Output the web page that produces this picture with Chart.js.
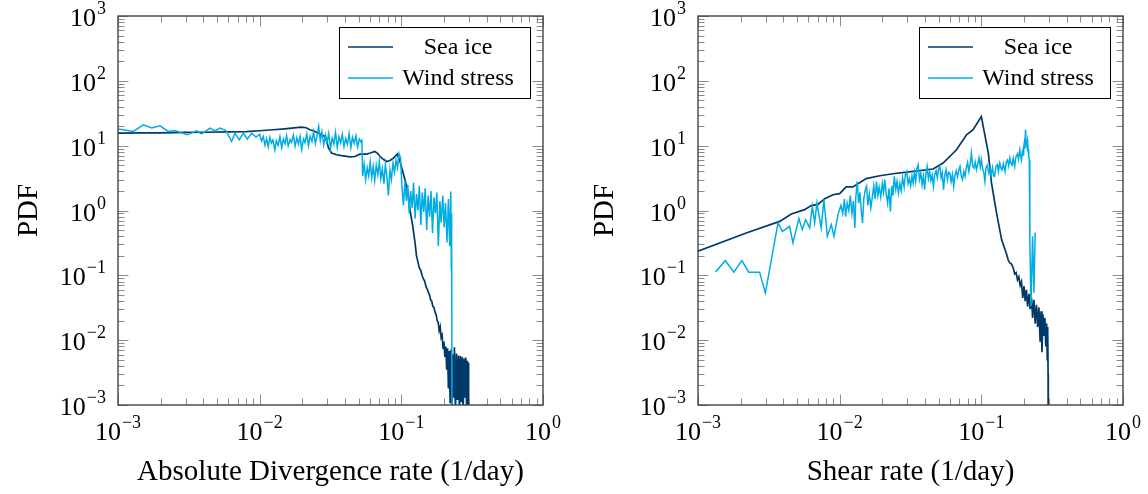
<!DOCTYPE html>
<html>
<head>
<meta charset="utf-8">
<script src="https://cdn.jsdelivr.net/npm/chart.js@4.4.1/dist/chart.umd.min.js"></script>
<style>
  html, body { margin: 0; padding: 0; background: #fff; }
  #wrap { position: relative; width: 1148px; height: 494px; }
  .panel { position: absolute; top: 0; width: 574px; height: 494px; }
  #p1 { left: 0; }
  #p2 { left: 574px; }
</style>
</head>
<body>
<div id="wrap">
  <div class="panel" id="p1"><canvas id="divChart"></canvas></div>
  <div class="panel" id="p2"><canvas id="shearChart"></canvas></div>
</div>
<script>
// Two log-log PDF panels: divergence (left) and shear (right)
const seriesNames = ["Sea ice", "Wind stress"];
const iceColor  = "rgb(0,57,104)";
const windColor = "rgb(0,172,230)";
const SERIF = '"Liberation Serif", "DejaVu Serif", serif';

const xDecades = [1e-3, 1e-2, 1e-1, 1e0];
const yDecades = [1e-3, 1e-2, 1e-1, 1e0, 1e1, 1e2, 1e3];
const minorSteps = [2, 3, 4, 5, 6, 7, 8, 9];

// --- left panel: absolute divergence rate ---
const divIceX = [0.001, 0.0015, 0.002, 0.003, 0.004, 0.006, 0.008, 0.01, 0.0125, 0.015, 0.0175, 0.0197, 0.0213, 0.0226, 0.024, 0.026, 0.0275, 0.0289, 0.0298, 0.0306, 0.0322, 0.0345, 0.0369, 0.04, 0.0433, 0.047, 0.0509, 0.0566, 0.0605, 0.0649, 0.068, 0.0708, 0.075, 0.0789, 0.083, 0.0878, 0.0936, 0.0978, 0.1, 0.103, 0.106, 0.109, 0.112, 0.115, 0.12, 0.125,
  0.128, 0.131, 0.134, 0.137, 0.14, 0.143, 0.146, 0.149, 0.152, 0.155, 0.158, 0.161, 0.164, 0.167, 0.17, 0.173, 0.176, 0.179, 0.182, 0.185, 0.188, 0.191, 0.194, 0.197, 0.2, 0.203, 0.206, 0.209, 0.212, 0.215, 0.218, 0.221, 0.224, 0.227, 0.231, 0.234, 0.237, 0.241, 0.245, 0.249, 0.253, 0.257, 0.261, 0.265, 0.269, 0.273, 0.277, 0.281, 0.285, 0.289, 0.293, 0.296, 0.298, 0.299];
const divIceY = [15.6, 15.7, 15.8, 16.0, 16.1, 16.3, 16.5, 17.0, 17.6, 18.2, 18.8, 19.3, 18.9, 17.6, 17.0, 15.6, 14.6, 13.9, 11.5, 9.2, 7.7, 7.3, 7.1, 6.9, 6.7, 6.8, 7.4, 7.4, 7.7, 8.15, 7.6, 6.8, 6.1, 5.7, 5.9, 6.4, 7.4, 5.7, 4.8, 3.8, 3.0, 2.36, 1.7, 1.03, 0.6, 0.316,
  0.2, 0.16, 0.13, 0.12, 0.1, 0.088, 0.082, 0.068, 0.062, 0.055, 0.05, 0.042, 0.04, 0.033, 0.032, 0.027, 0.025, 0.02, 0.019, 0.014, 0.016, 0.011, 0.012, 0.0075, 0.0095, 0.0055, 0.008, 0.0035, 0.0075, 0.0018, 0.0068, 0.0011, 0.0072, 0.0008, 0.006, 0.0013, 0.0078, 0.0007, 0.0062, 0.0012, 0.0058, 0.0008, 0.0057, 0.0011, 0.0055, 0.0007, 0.0052, 0.0013, 0.0054, 0.0008, 0.0048, 0.0012, 0.0045, 0.0001];

const divWindX = [0.001, 0.00128, 0.00151, 0.00173, 0.00198, 0.00226, 0.00252, 0.00308, 0.00359, 0.00389, 0.00446, 0.00484, 0.00525, 0.00578, 0.00634, 0.00669, 0.00718, 0.00766, 0.00818, 0.00879, 0.00942,
  0.0100, 0.0103, 0.0106, 0.0109, 0.0112, 0.0115, 0.0118, 0.0121, 0.0124, 0.0128, 0.0131, 0.0135, 0.0139, 0.0143, 0.0147, 0.0151, 0.0155, 0.0159, 0.0164, 0.0168, 0.0173, 0.0178, 0.0183, 0.0188, 0.0193, 0.0198, 0.0204, 0.0209, 0.0215, 0.0221, 0.0227, 0.0234, 0.024, 0.0247, 0.0254, 0.0261,
  0.0268, 0.0275, 0.0283, 0.0291, 0.0299, 0.0307, 0.0316, 0.0325, 0.0334, 0.0343, 0.0353, 0.0363, 0.0373, 0.0383, 0.0394, 0.0405, 0.0416, 0.0428, 0.044, 0.0452, 0.0465, 0.0478, 0.0491, 0.0505, 0.0519, 0.0527,
  0.0533, 0.0546, 0.056, 0.0574, 0.0588, 0.0603, 0.0618, 0.0633, 0.0649, 0.0665, 0.0682, 0.0699, 0.0716, 0.0734, 0.0753, 0.0771, 0.0791, 0.081, 0.0831, 0.0851, 0.0873, 0.0895, 0.0917, 0.094, 0.0963, 0.0987,
  0.101, 0.1035, 0.106, 0.1085, 0.111, 0.1137, 0.1164, 0.1192, 0.122, 0.125, 0.128, 0.131, 0.134, 0.1373, 0.1406, 0.144, 0.1474, 0.151, 0.1546, 0.1583, 0.162, 0.166, 0.17, 0.174, 0.178, 0.1825, 0.187, 0.191, 0.196, 0.2005, 0.205, 0.21, 0.215, 0.2195, 0.2235,
  0.2255, 0.2265, 0.228];
const divWindY = [18, 16.6, 21, 18.7, 20.2, 16.6, 17.1, 14.7, 16.9, 15.2, 18.7, 16.9, 18.7, 17.1, 11.6, 15.6, 12.3, 15.6, 12.6, 15.6, 13.6,
  15.0, 11.8, 13.9, 10.2, 12.8, 9.6, 13.5, 11.0, 12.2, 8.6, 11.9, 10.1, 13.8, 9.3, 12.6, 10.7, 14.2, 9.9, 12.4, 11.3, 14.6, 9.8, 13.2, 10.6, 13.9, 8.7, 12.7, 11.1, 15.2, 10.0, 14.0, 11.7, 16.5, 10.8, 14.3, 19.8,
  12.0, 16.4, 10.3, 14.6, 11.2, 15.5, 9.0, 13.1, 10.6, 16.0, 9.4, 13.6, 11.0, 14.9, 9.7, 12.8, 10.4, 15.3, 9.3, 13.4, 10.9, 14.2, 9.6, 12.7, 11.4, 12.0,
  3.4, 5.2, 3.0, 4.6, 3.4, 5.6, 3.2, 4.8, 2.9, 5.0, 3.6, 5.7, 3.1, 4.4, 2.6, 5.1, 3.4, 1.7, 4.2, 3.0, 5.4, 3.9, 6.0, 4.6, 7.6, 6.5,
  2.3, 1.2, 2.9, 1.4, 2.5, 0.9, 2.0, 1.1, 2.7, 0.75, 1.8, 1.0, 2.4, 0.6, 1.9, 0.95, 2.2, 0.5, 1.7, 0.8, 2.0, 0.45, 1.6, 0.9, 1.9, 0.28, 1.4, 0.65, 1.7, 0.55, 1.3, 0.32, 1.5, 0.28, 1.97,
  0.12, 0.9, 0.0001];

// --- right panel: shear rate ---
const shearIceX = [0.001, 0.00219, 0.00377, 0.00456, 0.00566, 0.0063, 0.00703, 0.00784, 0.00897, 0.01, 0.0111, 0.0124, 0.0154, 0.0192, 0.0238, 0.033, 0.0456, 0.0537, 0.0668, 0.0786, 0.0875, 0.1, 0.112, 0.118, 0.128, 0.139, 0.151,
  0.155, 0.159, 0.163, 0.168, 0.172, 0.176, 0.18, 0.184, 0.188, 0.192, 0.196, 0.2, 0.204, 0.208, 0.212, 0.217, 0.221, 0.226, 0.23, 0.235, 0.24, 0.245, 0.25, 0.255, 0.26, 0.264, 0.268, 0.272, 0.277, 0.281, 0.285, 0.289, 0.292, 0.294, 0.296, 0.297];
const shearIceY = [0.235, 0.45, 0.68, 0.885, 1.03, 1.19, 1.24, 1.52, 1.75, 1.82, 2.31, 2.31, 3.1, 3.44, 3.69, 4.0, 4.36, 5.4, 8.65, 14.7, 17.6, 28.2, 7.7, 2.65, 0.916, 0.356, 0.209,
  0.17, 0.155, 0.15, 0.13, 0.105, 0.11, 0.085, 0.095, 0.07, 0.08, 0.045, 0.068, 0.04, 0.06, 0.033, 0.052, 0.03, 0.045, 0.022, 0.042, 0.018, 0.035, 0.016, 0.032, 0.0095, 0.028, 0.0065, 0.025, 0.012, 0.022, 0.008, 0.018, 0.005, 0.016, 0.003, 0.0001];

const shearWindX = [0.00133, 0.00156, 0.00179, 0.00204, 0.00228, 0.00272, 0.00299, 0.00367, 0.00394, 0.00443, 0.00468, 0.00516, 0.00545, 0.00575, 0.00614, 0.00641, 0.00666, 0.00691, 0.00741, 0.00774, 0.00818, 0.00873, 0.00912, 0.00973,
  0.0102, 0.0105, 0.0108, 0.011, 0.0113, 0.0116, 0.0119, 0.0122, 0.0125, 0.0128, 0.013, 0.0133, 0.0136, 0.0139, 0.0142, 0.0145, 0.0148, 0.0151, 0.0155, 0.0158, 0.0162, 0.0166, 0.017, 0.0174, 0.0178, 0.0182, 0.0186, 0.019, 0.0195, 0.02, 0.0204, 0.0208, 0.0213, 0.0218, 0.0223, 0.0228, 0.0233, 0.0238, 0.0243, 0.0249, 0.0254, 0.026, 0.0266, 0.0272, 0.0278, 0.0285, 0.0291, 0.0297, 0.0304, 0.031, 0.0317,
  0.0324, 0.033, 0.0337, 0.0344, 0.0351, 0.0358, 0.0366, 0.0374, 0.0382, 0.039, 0.0398, 0.0406, 0.0414, 0.0423, 0.0432, 0.0441, 0.045, 0.0459, 0.0469, 0.0479, 0.0489, 0.0499, 0.0509, 0.052, 0.053, 0.0541, 0.0552, 0.0564, 0.0576, 0.0588, 0.06, 0.0612, 0.0625, 0.0638, 0.0651, 0.0665, 0.0679, 0.0693, 0.0707, 0.0722, 0.0737, 0.0752, 0.0768, 0.0784, 0.08, 0.0817, 0.0834, 0.0851, 0.0869, 0.0887, 0.0905, 0.0924, 0.0943, 0.0963, 0.0983,
  0.1, 0.102, 0.104, 0.106, 0.108, 0.11, 0.113, 0.115, 0.117, 0.12, 0.122, 0.124, 0.127, 0.13, 0.132, 0.135, 0.138, 0.14, 0.143, 0.147, 0.15, 0.153, 0.156, 0.159, 0.162, 0.165, 0.168, 0.172, 0.175, 0.18, 0.183, 0.187, 0.19, 0.192, 0.195, 0.197, 0.199, 0.201, 0.203, 0.205, 0.207, 0.209, 0.212, 0.214, 0.216, 0.218,
  0.22, 0.224, 0.23, 0.235, 0.24];
const shearWindY = [0.113, 0.169, 0.112, 0.169, 0.112, 0.112, 0.0537, 0.643, 0.478, 0.57, 0.316, 0.75, 0.507, 0.72, 0.538, 1.16, 0.643, 1.31, 0.538, 1.47, 0.4, 0.605, 0.4, 0.863,
  1.2, 0.9, 1.5, 0.8, 1.3, 1.0, 1.7, 0.9, 1.4, 0.54, 1.6, 2.8, 1.3, 1.9, 1.0, 0.64, 1.5, 2.0, 2.36, 1.2, 1.8, 1.1, 1.6, 2.4, 1.5, 2.8, 1.7, 2.3, 1.6, 2.6, 1.9, 3.0, 1.8, 1.3, 2.2, 0.97, 2.4, 1.7, 3.36, 2.1, 2.8, 1.86, 2.6, 2.0, 3.2, 2.3, 3.6, 4.0, 2.6, 3.1, 2.4,
  3.4, 2.65, 3.9, 2.8, 4.4, 5.08, 3.0, 3.8, 2.5, 3.4, 2.1, 3.6, 4.79, 3.1, 3.9, 2.9, 3.5, 2.36, 3.6, 4.1, 3.2, 4.4, 4.79, 3.2, 3.8, 2.1, 3.5, 4.3, 3.0, 3.9, 3.78, 2.8, 3.6, 2.36, 3.5, 4.1, 3.3, 4.2, 4.79, 3.4, 3.0, 4.0, 3.36, 4.6, 5.5, 4.0, 5.2, 7.7, 4.8, 4.5, 5.6, 4.26, 5.2, 6.5, 4.7,
  6.07, 4.4, 3.9, 2.81, 4.6, 5.0, 3.8, 4.52, 3.5, 4.6, 3.4, 3.36, 4.8, 5.1, 4.0, 5.4, 4.4, 4.2, 5.3, 4.0, 5.6, 6.0, 4.9, 6.44, 5.3, 5.0, 6.4, 4.79, 6.6, 7.5, 6.2, 8.65, 6.8, 6.0, 8.0, 7.2, 9.5, 11, 9.0, 17.6, 11, 10, 12, 8.65, 7.0, 6.07,
  0.356, 0.0334, 0.4, 0.0537, 0.456];

const toPts = (xs, ys) => xs.map((v, i) => ({ x: v, y: ys[i] }));

function expText(v) {
  const e = Math.round(Math.log10(v));
  return e < 0 ? "\u2212" + (-e) : String(e);
}

// draws 10^e with a raised exponent
function drawPow(ctx, v, x, baseY, align) {
  const ex = expText(v);
  ctx.font = "26px " + SERIF;
  const w10 = ctx.measureText("10").width;
  ctx.font = "18px " + SERIF;
  const wE = ctx.measureText(ex).width;
  const total = w10 + 1 + wE;
  const x0 = align === "center" ? x - total / 2 : x - total;
  ctx.fillStyle = "#000";
  ctx.textAlign = "left";
  ctx.textBaseline = "alphabetic";
  ctx.font = "26px " + SERIF;
  ctx.fillText("10", x0, baseY);
  ctx.font = "18px " + SERIF;
  ctx.fillText(ex, x0 + w10 + 1, baseY - 12);
}

const decorPlugin = {
  id: "decor",
  afterDatasetsDraw(chart) {
    const { ctx, chartArea: a, scales: { x, y } } = chart;
    ctx.save();
    const r = v => Math.round(v) + 0.5;

    // ticks on all four sides, pointing in
    ctx.strokeStyle = "#8c8c8c";
    ctx.lineWidth = 1;
    ctx.beginPath();
    const tickX = (v, len) => {
      const px = r(x.getPixelForValue(v));
      ctx.moveTo(px, a.bottom); ctx.lineTo(px, a.bottom - len);
      ctx.moveTo(px, a.top); ctx.lineTo(px, a.top + len);
    };
    const tickY = (v, len) => {
      const py = r(y.getPixelForValue(v));
      ctx.moveTo(a.left, py); ctx.lineTo(a.left + len, py);
      ctx.moveTo(a.right, py); ctx.lineTo(a.right - len, py);
    };
    xDecades.forEach((d, i) => {
      tickX(d, 10.5);
      if (i < xDecades.length - 1) minorSteps.forEach(m => tickX(d * m, 6.5));
    });
    yDecades.forEach((d, i) => {
      tickY(d, 10.5);
      if (i < yDecades.length - 1) minorSteps.forEach(m => tickY(d * m, 6.5));
    });
    ctx.stroke();

    // frame
    ctx.strokeStyle = "#444";
    ctx.lineWidth = 1.4;
    ctx.strokeRect(a.left, a.top, a.right - a.left, a.bottom - a.top);

    // tick labels
    xDecades.forEach(d => drawPow(ctx, d, x.getPixelForValue(d), a.bottom + 35, "center"));
    yDecades.forEach(d => drawPow(ctx, d, a.left - 12, y.getPixelForValue(d) + 10, "right"));

    // legend box (top right, inside the axes)
    const bw = 191, bh = 71;
    const bx = a.right - 13 - bw, by = a.top + 11;
    ctx.fillStyle = "#fff";
    ctx.fillRect(bx, by, bw, bh);
    ctx.strokeStyle = "#000";
    ctx.lineWidth = 1;
    ctx.strokeRect(r(bx), r(by), bw, bh);
    const rows = [
      { name: seriesNames[0], color: iceColor },
      { name: seriesNames[1], color: windColor }
    ];
    ctx.font = "24px " + SERIF;
    ctx.textAlign = "center";
    ctx.textBaseline = "middle";
    rows.forEach((row, i) => {
      const ly = by + 20 + i * 31;
      ctx.strokeStyle = row.color;
      ctx.lineWidth = 1.5;
      ctx.beginPath();
      ctx.moveTo(bx + 9, ly); ctx.lineTo(bx + 54, ly);
      ctx.stroke();
      ctx.fillStyle = "#000";
      ctx.fillText(row.name, bx + 119, ly + 1);
    });
    ctx.restore();
  }
};

function makeChart(id, iceX, iceY, windX, windY, xTitle, leftWidth, rightPad, yTitlePad) {
  return new Chart(document.getElementById(id), {
    type: "line",
    data: {
      datasets: [
        { label: seriesNames[1], data: toPts(windX, windY), borderColor: windColor, borderWidth: 1.5, pointRadius: 0, tension: 0, order: 0 },
        { label: seriesNames[0], data: toPts(iceX, iceY), borderColor: iceColor, borderWidth: 1.7, pointRadius: 0, tension: 0, order: 1 }
      ]
    },
    options: {
      animation: false,
      responsive: true,
      maintainAspectRatio: false,
      devicePixelRatio: 1,
      layout: { padding: { left: 0, top: 16, right: rightPad, bottom: 0 } },
      plugins: { legend: { display: false }, tooltip: { enabled: false } },
      scales: {
        x: {
          type: "logarithmic", min: 1e-3, max: 1,
          grid: { display: false }, border: { display: false }, ticks: { display: false },
          title: { display: true, text: xTitle, color: "#000", font: { family: SERIF, size: 29 }, padding: { bottom: 4 } },
          afterFit: s => { s.height = 89; }
        },
        y: {
          type: "logarithmic", min: 1e-3, max: 1e3,
          grid: { display: false }, border: { display: false }, ticks: { display: false },
          title: { display: true, text: "PDF", color: "#000", font: { family: SERIF, size: 29 }, padding: { top: yTitlePad } },
          afterFit: s => { s.width = leftWidth; }
        }
      }
    },
    plugins: [decorPlugin]
  });
}

makeChart("divChart", divIceX, divIceY, divWindX, divWindY, "Absolute Divergence rate (1/day)", 118, 31, 12);
makeChart("shearChart", shearIceX, shearIceY, shearWindX, shearWindY, "Shear rate (1/day)", 124, 25, 14);
</script>
</body>
</html>
